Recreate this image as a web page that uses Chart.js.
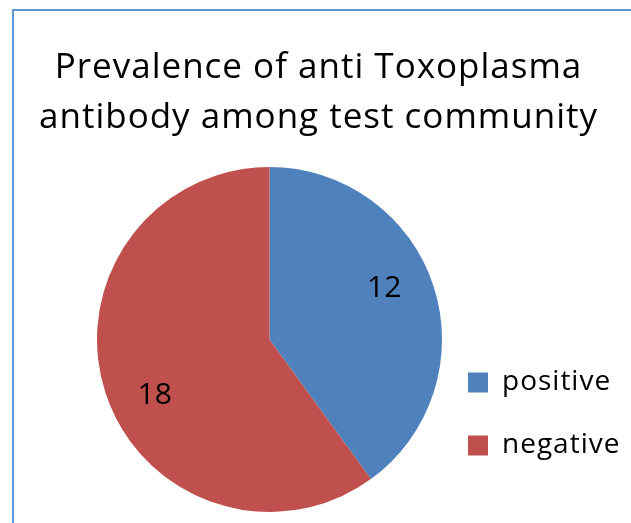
<!DOCTYPE html>
<html>
<head>
<meta charset="utf-8">
<script src="https://cdn.jsdelivr.net/npm/chart.js@4/dist/chart.umd.min.js"></script>
<style>
  html, body { margin: 0; padding: 0; background: #fff; overflow: hidden; }
  #frame {
    position: absolute; left: 12px; top: 9px; width: 700px; height: 600px;
    border-left: 2px solid #5a97d6; border-top: 2px solid #5a97d6;
  }
  #chart { position: absolute; left: 0; top: 0; }
</style>
</head>
<body>
<div id="frame"></div>
<canvas id="chart" width="631" height="523"></canvas>
<script>
// Survey result: seropositive vs seronegative people
const categories = ['positive', 'negative'];
const counts = [12, 18];
const sliceColors = ['#4F81BD', '#C0504D'];
const titleLines = ['Prevalence of anti Toxoplasma', 'antibody among test community'];

const FONT = "'Open Sans', 'Liberation Sans', sans-serif";

// Slightly open tracking for the title and legend text
const textTracking = {
  id: 'textTracking',
  beforeLayout(chart) { chart.ctx.letterSpacing = '1px'; },
  beforeDraw(chart) { chart.ctx.letterSpacing = '1px'; }
};

// Writes each slice's count inside the slice
const sliceValueLabels = {
  id: 'sliceValueLabels',
  afterDatasetsDraw(chart) {
    const { ctx } = chart;
    const meta = chart.getDatasetMeta(0);
    const values = chart.data.datasets[0].data;
    ctx.save();
    ctx.letterSpacing = '0px';
    ctx.font = '30px ' + FONT;
    ctx.fillStyle = '#000';
    ctx.textAlign = 'center';
    ctx.textBaseline = 'alphabetic';
    meta.data.forEach((arc, i) => {
      const p = arc.getProps(['x', 'y', 'startAngle', 'endAngle', 'outerRadius'], true);
      const mid = (p.startAngle + p.endAngle) / 2 - 7 * Math.PI / 180;
      const r = p.outerRadius * 0.734;
      ctx.fillText(String(values[i]), p.x + Math.cos(mid) * r, p.y + Math.sin(mid) * r + 10.7);
    });
    ctx.restore();
  }
};

const baseLabels = Chart.overrides.doughnut.plugins.legend.labels.generateLabels;

new Chart(document.getElementById('chart'), {
  type: 'pie',
  data: {
    labels: categories,
    datasets: [{
      data: counts,
      backgroundColor: sliceColors,
      borderWidth: 0,
      hoverOffset: 0,
      offset: 0
    }]
  },
  options: {
    responsive: false,
    animation: false,
    devicePixelRatio: 1,
    events: [],
    layout: { padding: { left: 12, right: 6, top: 0, bottom: 11 } },
    plugins: {
      tooltip: { enabled: false },
      title: {
        display: true,
        text: titleLines,
        color: '#000',
        font: { family: FONT, size: 35, weight: 'normal', lineHeight: '50px' },
        padding: { top: 43, bottom: 24 }
      },
      // empty left band keeps the pie off-centre, leaving room for the legend
      subtitle: {
        display: true,
        text: '',
        position: 'left',
        fullSize: false,
        padding: 0,
        font: { size: 12, lineHeight: '67px' }
      },
      legend: {
        position: 'right',
        align: 'start',
        fullSize: false,
        maxWidth: 165,
        title: {
          display: true,
          text: '',
          padding: { top: 192.5, bottom: 0 },
          font: { size: 12, lineHeight: '1px' }
        },
        labels: {
          boxWidth: 20,
          boxHeight: 20,
          padding: 8,
          color: '#000',
          font: { family: FONT, size: 28, lineHeight: '55px' },
          generateLabels(chart) {
            return baseLabels(chart).map(item => Object.assign(item, { text: [item.text], lineWidth: 0 }));
          }
        }
      }
    }
  },
  plugins: [textTracking, sliceValueLabels]
});
</script>
</body>
</html>
